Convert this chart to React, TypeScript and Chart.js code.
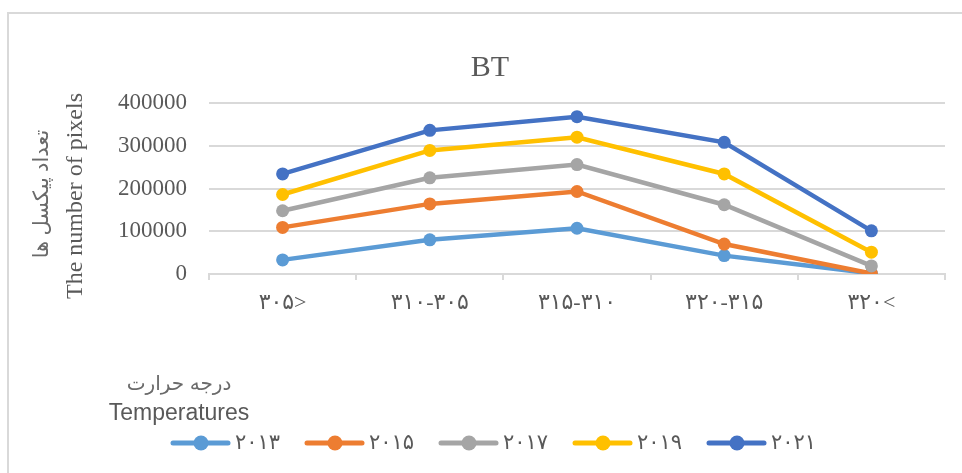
import React, { useEffect, useRef } from 'react';
import { Chart, registerables } from 'chart.js';
Chart.register(...registerables);

const categories = ['۳۰۵>', '۳۱۰-۳۰۵', '۳۱۵-۳۱۰', '۳۲۰-۳۱۵', '۳۲۰<'];
const seriesNames = ['۲۰۱۳', '۲۰۱۵', '۲۰۱۷', '۲۰۱۹', '۲۰۲۱'];
const values2013 = [33000, 80000, 107000, 43000, 1500];
const values2015 = [109000, 164000, 193000, 70000, 1000];
const values2017 = [148000, 225000, 256000, 162000, 19000];
const values2019 = [186000, 289000, 320000, 234000, 51000];
const values2021 = [234000, 336000, 368000, 308000, 101000];
const yTicks = [0, 100000, 200000, 300000, 400000];
const chartTitle = 'BT';
const yTitleFa = 'تعداد پیکسل ها';
const yTitleEn = 'The number of pixels';
const xTitleFa = 'درجه حرارت';
const xTitleEn = 'Temperatures';

const seriesValues = [values2013, values2015, values2017, values2019, values2021];
const seriesColors = ['#5B9BD5', '#ED7D31', '#A5A5A5', '#FFC000', '#4472C4'];

const TEXT = '#595959';
const GRID = '#D9D9D9';
const SERIF = '"Liberation Serif", "Times New Roman", "DejaVu Serif", "DejaVu Sans", serif';
const SANS = '"Liberation Sans", "DejaVu Sans", sans-serif';

const decorPlugin = {
  id: 'decor',
  beforeDraw(chart: any) {
    const ctx = chart.ctx;
    ctx.save();
    ctx.fillStyle = '#ffffff';
    ctx.fillRect(0, 0, chart.width, chart.height);
    ctx.strokeStyle = GRID;
    ctx.lineWidth = 2;
    ctx.beginPath();
    ctx.moveTo(8, chart.height);
    ctx.lineTo(8, 13);
    ctx.lineTo(chart.width, 13);
    ctx.stroke();
    ctx.restore();
  },
  afterDraw(chart: any) {
    const ctx = chart.ctx;
    ctx.save();
    ctx.fillStyle = TEXT;
    // title
    ctx.font = `30px ${SERIF}`;
    ctx.textAlign = 'center';
    ctx.textBaseline = 'middle';
    ctx.fillText(chartTitle, 490, 68);
    // y titles
    ctx.save();
    ctx.translate(42, 194);
    ctx.rotate(-Math.PI / 2);
    ctx.fillStyle = '#6a6a6a';
    ctx.font = `21px ${SERIF}`;
    ctx.fillText(yTitleFa, 0, 0);
    ctx.restore();
    ctx.save();
    ctx.translate(76, 196);
    ctx.rotate(-Math.PI / 2);
    ctx.font = `24px ${SERIF}`;
    ctx.fillText(yTitleEn, 0, 0);
    ctx.restore();
    // x titles
    ctx.fillStyle = '#6a6a6a';
    ctx.font = `20px ${SANS}`;
    ctx.fillText(xTitleFa, 179, 384);
    ctx.fillStyle = TEXT;
    ctx.font = `23px ${SANS}`;
    ctx.fillText(xTitleEn, 179, 414);
    // legend
    const y = 443;
    chart.data.datasets.forEach((ds: any, i: number) => {
      const x0 = 173 + i * 134;
      ctx.strokeStyle = ds.borderColor;
      ctx.lineWidth = 5;
      ctx.lineCap = 'round';
      ctx.beginPath();
      ctx.moveTo(x0, y);
      ctx.lineTo(x0 + 55, y);
      ctx.stroke();
      ctx.fillStyle = ds.borderColor;
      ctx.beginPath();
      ctx.arc(x0 + 28, y, 7.5, 0, Math.PI * 2);
      ctx.fill();
      ctx.fillStyle = TEXT;
      ctx.font = `21px ${SERIF}`;
      ctx.textAlign = 'left';
      ctx.fillText(ds.label, x0 + 62, y);
    });
    ctx.restore();
  },
};

export default function App() {
  const ref = useRef<HTMLCanvasElement>(null);
  useEffect(() => {
    if (!ref.current) return;
    const chart = new Chart(ref.current, {
      type: 'line',
      data: {
        labels: categories,
        datasets: seriesValues.map((vals, i) => ({
          label: seriesNames[i],
          data: vals,
          borderColor: seriesColors[i],
          backgroundColor: seriesColors[i],
          pointBackgroundColor: seriesColors[i],
          pointBorderColor: seriesColors[i],
          borderWidth: 4.5,
          pointRadius: 6.5,
          pointBorderWidth: 0,
          tension: 0,
          order: seriesValues.length - i,
        })),
      },
      options: {
        animation: false,
        responsive: false,
        layout: { padding: { top: 103, right: 17, bottom: 0, left: 0 } },
        plugins: {
          legend: { display: false },
          title: { display: false },
          tooltip: { enabled: false },
        },
        scales: {
          x: {
            type: 'category',
            offset: true,
            afterFit: (scale: any) => { scale.height = 473 - 274; },
            grid: {
              offset: true,
              drawOnChartArea: false,
              drawTicks: true,
              tickLength: 6,
              color: GRID,
              lineWidth: 2,
            },
            border: { display: true, color: GRID, width: 2 },
            ticks: {
              color: TEXT,
              font: { family: SERIF, size: 22 },
              padding: 10,
              maxRotation: 0,
              autoSkip: false,
            },
          },
          y: {
            min: 0,
            max: 400000,
            afterFit: (scale: any) => { scale.width = 209; },
            afterBuildTicks: (scale: any) => { scale.ticks = yTicks.map((v) => ({ value: v })); },
            grid: { color: GRID, lineWidth: 2, drawTicks: false },
            border: { display: false },
            ticks: {
              color: TEXT,
              font: { family: SERIF, size: 23 },
              padding: 22,
              callback: (v: any) => String(v),
            },
          },
        },
      },
      plugins: [decorPlugin],
    } as any);
    return () => chart.destroy();
  }, []);
  return (
    <div style={{ position: 'fixed', left: 0, top: 0, width: 962, height: 473, background: '#fff' }}>
      <canvas ref={ref} width={962} height={473} style={{ display: 'block' }} />
    </div>
  );
}
